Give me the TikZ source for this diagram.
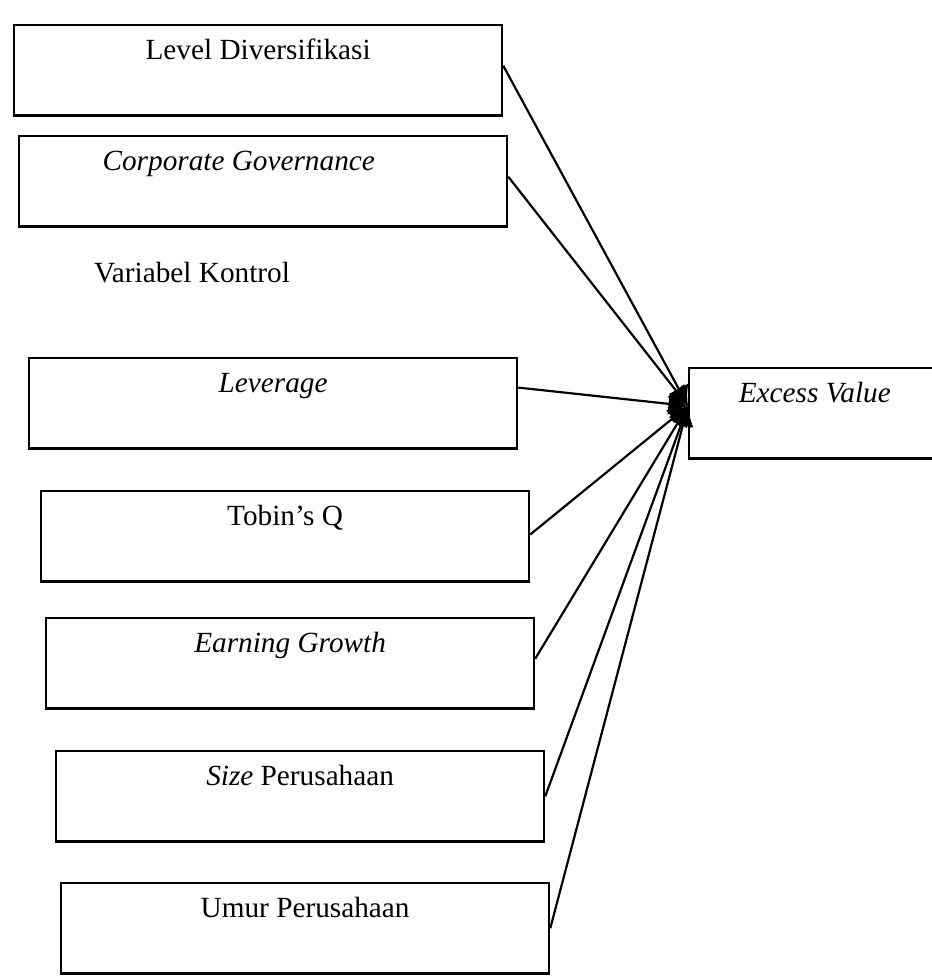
\documentclass[tikz,border=0pt]{standalone}
\usepackage{fontspec}
\setmainfont{Liberation Serif}
\usetikzlibrary{arrows.meta,calc}

\tikzset{
  varbox/.style={draw, line width=1pt, anchor=north west, minimum width=200pt,
    text height=9.5pt, text depth=18.5pt, inner ysep=4.5pt, inner xsep=0pt,
    font=\fontsize{12pt}{14pt}\selectfont},
  outbox/.style={varbox, minimum width=103pt},
  link/.style={line width=0.9pt, -{Latex[length=8pt,width=9pt]}}
}

\begin{document}
\begin{tikzpicture}[x=0.41pt, y=-0.41pt]
  \useasboundingbox (0,0) rectangle (931,980);
  \node[varbox] (div) at (13,24) {Level Diversifikasi};
  \node[varbox] (cg) at (18,135) {\textit{Corporate Governance}\hspace*{20pt}};
  \node[font=\fontsize{12pt}{14pt}\selectfont] (kontrol) at (192,273) {Variabel Kontrol};
  \node[varbox] (lev) at (28,357) {\textit{Leverage}};
  \node[varbox] (tq) at (40,490) {Tobin's Q};
  \node[varbox] (eg) at (45,617) {\textit{Earning Growth}};
  \node[varbox] (size) at (55,750) {\textit{Size} Perusahaan};
  \node[varbox] (umur) at (60,882) {Umur Perusahaan};
  \node[outbox] (ev) at (688,367) {\textit{Excess Value}};
  \coordinate (hub) at ($(ev.north west)!0.42!(ev.south west)$);
  \foreach \src/\f in {div/0.45, cg/0.45, lev/0.33, tq/0.48, eg/0.45, size/0.5, umur/0.5}
    \draw[link] ($(\src.north east)!\f!(\src.south east)$) -- (hub);
\end{tikzpicture}
\end{document}
